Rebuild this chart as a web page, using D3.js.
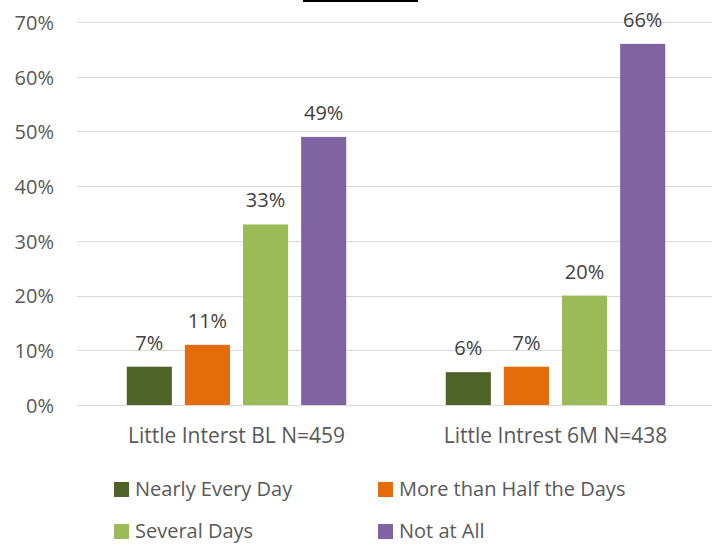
<!DOCTYPE html>
<html><head><meta charset="utf-8">
<script src="https://cdn.jsdelivr.net/npm/d3@7"></script>
<style>body{margin:0;background:#fff}svg{display:block}</style>
</head><body>
<script>
const categories = ["Little Interst BL N=459", "Little Intrest 6M N=438"];
const seriesNames = ["Nearly Every Day", "More than Half the Days", "Several Days", "Not at All"];
const seriesColors = ["#4F6228", "#E46C0A", "#9BBB59", "#8064A2"];
const nearlyEveryDay = [7, 6];
const moreThanHalf = [11, 7];
const severalDays = [33, 20];
const notAtAll = [49, 66];
const yTicks = [0, 10, 20, 30, 40, 50, 60, 70];
const values = [nearlyEveryDay, moreThanHalf, severalDays, notAtAll];

const W = 712, H = 544;
const font = "'Open Sans', 'Noto Sans', sans-serif";
const svg = d3.select("body").append("svg").attr("width", W).attr("height", H);

const y = d3.scaleLinear().domain([0, 70]).range([405, 22]);
const x0 = d3.scaleBand().domain(categories).range([77, 715]);
const x1 = d3.scaleBand().domain(d3.range(4)).range([x0.bandwidth()*0.156, x0.bandwidth()*0.844]).paddingInner(0.224);

// title underline fragment
svg.append("rect").attr("x", 303).attr("y", 0).attr("width", 115).attr("height", 2).attr("fill", "#000");

// gridlines
svg.append("g").selectAll("line").data(yTicks).join("line")
  .attr("x1", 77).attr("x2", W).attr("y1", d => Math.round(y(d)) + 0.5).attr("y2", d => Math.round(y(d)) + 0.5)
  .attr("stroke", "#d9d9d9").attr("stroke-width", 1);

// y axis labels
const yAxis = d3.axisLeft(y).tickValues(yTicks).tickFormat(d => d + "%").tickSize(0).tickPadding(0);
const ga = svg.append("g").attr("transform", "translate(54,1)").call(yAxis);
ga.select(".domain").remove();
ga.selectAll("text").attr("font-family", font).attr("font-size", 20).attr("fill", "#595959");

// bars
const groups = svg.append("g").selectAll("g").data(categories).join("g")
  .attr("transform", d => `translate(${x0(d)},0)`);
groups.each(function(cat, ci) {
  const g = d3.select(this);
  values.forEach((arr, si) => {
    const v = arr[ci];
    g.append("rect").attr("x", x1(si)).attr("width", x1.bandwidth())
      .attr("y", y(v)).attr("height", y(0) - y(v)).attr("fill", seriesColors[si]);
    g.append("text").attr("x", x1(si) + x1.bandwidth()/2).attr("y", y(v) - 17)
      .attr("text-anchor", "middle").attr("font-family", font).attr("font-size", 20)
      .attr("fill", "#404040").text(v + "%");
  });
});

// category axis labels
const xAxis = d3.axisBottom(x0).tickSize(0).tickPadding(0);
const gx = svg.append("g").attr("transform", "translate(0,443)").call(xAxis);
gx.select(".domain").remove();
gx.selectAll("text").attr("font-family", font).attr("font-size", 21).attr("fill", "#595959").attr("dy", "0");

// legend
const legPos = [[114, 496], [378, 496], [114, 538], [378, 538]];
const leg = svg.append("g").selectAll("g").data(seriesNames).join("g")
  .attr("transform", (d, i) => `translate(${legPos[i][0]},${legPos[i][1]})`);
leg.append("rect").attr("x", 0).attr("y", -14).attr("width", 15).attr("height", 15).attr("fill", (d, i) => seriesColors[i]);
leg.append("text").attr("x", 21).attr("y", 0).attr("font-family", font).attr("font-size", 20)
  .attr("fill", "#595959").text(d => d);
</script>
</body></html>
